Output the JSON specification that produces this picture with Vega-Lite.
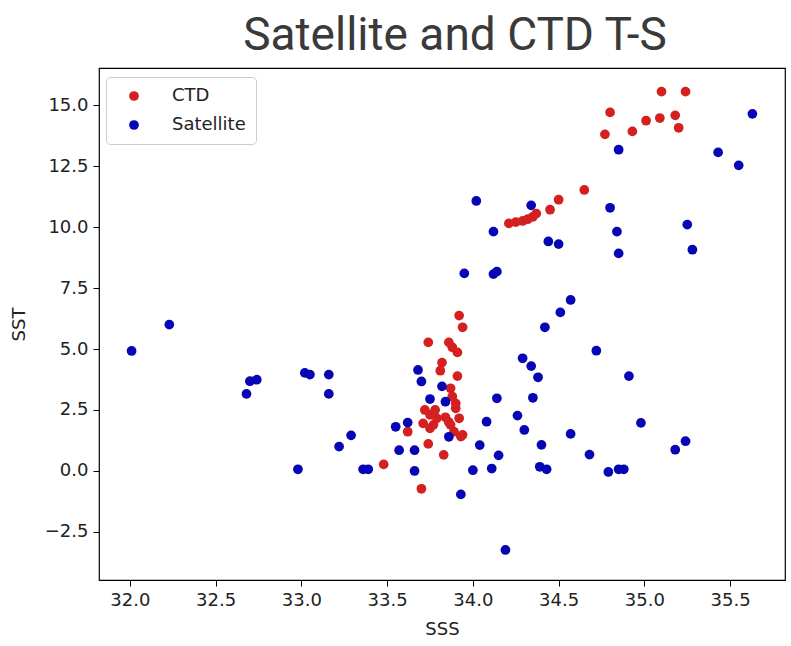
{
  "$schema": "https://vega.github.io/schema/vega-lite/v6.json",
  "autosize": {"type": "none"},
  "padding": {"left": 99, "top": 68, "right": 6, "bottom": 66},
  "width": 686,
  "height": 512,
  "background": "white",
  "title": {
    "text": "Satellite and CTD T-S",
    "font": "Roboto",
    "fontSize": 46,
    "fontWeight": "normal",
    "color": "#3a3a3a",
    "anchor": "middle",
    "frame": "group",
    "dx": 13,
    "offset": 8
  },
  "data": {
    "values": [
      {"sss": 33.48, "sst": 0.27, "source": "CTD"},
      {"sss": 33.70, "sst": -0.73, "source": "CTD"},
      {"sss": 33.62, "sst": 1.61, "source": "CTD"},
      {"sss": 33.74, "sst": 1.11, "source": "CTD"},
      {"sss": 33.83, "sst": 0.66, "source": "CTD"},
      {"sss": 33.71, "sst": 1.95, "source": "CTD"},
      {"sss": 33.77, "sst": 1.89, "source": "CTD"},
      {"sss": 33.75, "sst": 1.75, "source": "CTD"},
      {"sss": 33.72, "sst": 2.5, "source": "CTD"},
      {"sss": 33.78, "sst": 2.5, "source": "CTD"},
      {"sss": 33.75, "sst": 2.30, "source": "CTD"},
      {"sss": 33.79, "sst": 2.16, "source": "CTD"},
      {"sss": 33.84, "sst": 2.2, "source": "CTD"},
      {"sss": 33.86, "sst": 2.0, "source": "CTD"},
      {"sss": 33.87, "sst": 1.89, "source": "CTD"},
      {"sss": 33.92, "sst": 2.16, "source": "CTD"},
      {"sss": 33.89, "sst": 1.61, "source": "CTD"},
      {"sss": 33.94, "sst": 1.48, "source": "CTD"},
      {"sss": 33.93, "sst": 1.41, "source": "CTD"},
      {"sss": 33.90, "sst": 2.57, "source": "CTD"},
      {"sss": 33.90, "sst": 2.77, "source": "CTD"},
      {"sss": 33.88, "sst": 3.05, "source": "CTD"},
      {"sss": 33.87, "sst": 3.39, "source": "CTD"},
      {"sss": 33.91, "sst": 3.89, "source": "CTD"},
      {"sss": 33.81, "sst": 4.11, "source": "CTD"},
      {"sss": 33.82, "sst": 4.44, "source": "CTD"},
      {"sss": 33.91, "sst": 4.86, "source": "CTD"},
      {"sss": 33.88, "sst": 5.07, "source": "CTD"},
      {"sss": 33.86, "sst": 5.27, "source": "CTD"},
      {"sss": 33.74, "sst": 5.27, "source": "CTD"},
      {"sss": 33.94, "sst": 5.89, "source": "CTD"},
      {"sss": 33.92, "sst": 6.37, "source": "CTD"},
      {"sss": 34.21, "sst": 10.15, "source": "CTD"},
      {"sss": 34.25, "sst": 10.2, "source": "CTD"},
      {"sss": 34.29, "sst": 10.25, "source": "CTD"},
      {"sss": 34.32, "sst": 10.32, "source": "CTD"},
      {"sss": 34.35, "sst": 10.42, "source": "CTD"},
      {"sss": 34.37, "sst": 10.55, "source": "CTD"},
      {"sss": 34.45, "sst": 10.71, "source": "CTD"},
      {"sss": 34.50, "sst": 11.12, "source": "CTD"},
      {"sss": 34.65, "sst": 11.52, "source": "CTD"},
      {"sss": 34.77, "sst": 13.80, "source": "CTD"},
      {"sss": 34.80, "sst": 14.70, "source": "CTD"},
      {"sss": 34.93, "sst": 13.92, "source": "CTD"},
      {"sss": 35.01, "sst": 14.36, "source": "CTD"},
      {"sss": 35.09, "sst": 14.47, "source": "CTD"},
      {"sss": 35.10, "sst": 15.55, "source": "CTD"},
      {"sss": 35.18, "sst": 14.58, "source": "CTD"},
      {"sss": 35.20, "sst": 14.07, "source": "CTD"},
      {"sss": 35.24, "sst": 15.55, "source": "CTD"},
      {"sss": 32.01, "sst": 4.92, "source": "Satellite"},
      {"sss": 32.23, "sst": 6.0, "source": "Satellite"},
      {"sss": 32.68, "sst": 3.16, "source": "Satellite"},
      {"sss": 32.70, "sst": 3.68, "source": "Satellite"},
      {"sss": 32.74, "sst": 3.74, "source": "Satellite"},
      {"sss": 33.02, "sst": 4.02, "source": "Satellite"},
      {"sss": 33.05, "sst": 3.95, "source": "Satellite"},
      {"sss": 33.16, "sst": 3.95, "source": "Satellite"},
      {"sss": 33.16, "sst": 3.16, "source": "Satellite"},
      {"sss": 32.98, "sst": 0.07, "source": "Satellite"},
      {"sss": 33.22, "sst": 1.0, "source": "Satellite"},
      {"sss": 33.29, "sst": 1.46, "source": "Satellite"},
      {"sss": 33.36, "sst": 0.07, "source": "Satellite"},
      {"sss": 33.39, "sst": 0.07, "source": "Satellite"},
      {"sss": 33.55, "sst": 1.81, "source": "Satellite"},
      {"sss": 33.62, "sst": 1.98, "source": "Satellite"},
      {"sss": 33.57, "sst": 0.85, "source": "Satellite"},
      {"sss": 33.66, "sst": 0.85, "source": "Satellite"},
      {"sss": 33.66, "sst": 0.0, "source": "Satellite"},
      {"sss": 33.68, "sst": 4.14, "source": "Satellite"},
      {"sss": 33.70, "sst": 3.67, "source": "Satellite"},
      {"sss": 33.82, "sst": 3.47, "source": "Satellite"},
      {"sss": 33.75, "sst": 2.95, "source": "Satellite"},
      {"sss": 33.84, "sst": 2.84, "source": "Satellite"},
      {"sss": 33.86, "sst": 1.40, "source": "Satellite"},
      {"sss": 33.93, "sst": -0.96, "source": "Satellite"},
      {"sss": 33.95, "sst": 8.10, "source": "Satellite"},
      {"sss": 34.02, "sst": 11.07, "source": "Satellite"},
      {"sss": 34.12, "sst": 9.81, "source": "Satellite"},
      {"sss": 34.12, "sst": 8.07, "source": "Satellite"},
      {"sss": 34.14, "sst": 8.17, "source": "Satellite"},
      {"sss": 34.34, "sst": 10.89, "source": "Satellite"},
      {"sss": 34.44, "sst": 9.41, "source": "Satellite"},
      {"sss": 34.50, "sst": 9.30, "source": "Satellite"},
      {"sss": 34.14, "sst": 2.98, "source": "Satellite"},
      {"sss": 34.08, "sst": 2.02, "source": "Satellite"},
      {"sss": 34.04, "sst": 1.06, "source": "Satellite"},
      {"sss": 34.00, "sst": 0.03, "source": "Satellite"},
      {"sss": 34.11, "sst": 0.10, "source": "Satellite"},
      {"sss": 34.15, "sst": 0.64, "source": "Satellite"},
      {"sss": 34.19, "sst": -3.24, "source": "Satellite"},
      {"sss": 34.29, "sst": 4.62, "source": "Satellite"},
      {"sss": 34.34, "sst": 4.30, "source": "Satellite"},
      {"sss": 34.38, "sst": 3.84, "source": "Satellite"},
      {"sss": 34.35, "sst": 3.0, "source": "Satellite"},
      {"sss": 34.26, "sst": 2.27, "source": "Satellite"},
      {"sss": 34.30, "sst": 1.68, "source": "Satellite"},
      {"sss": 34.40, "sst": 1.07, "source": "Satellite"},
      {"sss": 34.39, "sst": 0.17, "source": "Satellite"},
      {"sss": 34.43, "sst": 0.07, "source": "Satellite"},
      {"sss": 34.42, "sst": 5.89, "source": "Satellite"},
      {"sss": 34.51, "sst": 6.50, "source": "Satellite"},
      {"sss": 34.57, "sst": 7.01, "source": "Satellite"},
      {"sss": 34.57, "sst": 1.52, "source": "Satellite"},
      {"sss": 34.68, "sst": 0.67, "source": "Satellite"},
      {"sss": 34.72, "sst": 4.93, "source": "Satellite"},
      {"sss": 34.79, "sst": -0.04, "source": "Satellite"},
      {"sss": 34.85, "sst": 0.07, "source": "Satellite"},
      {"sss": 34.88, "sst": 0.07, "source": "Satellite"},
      {"sss": 34.91, "sst": 3.89, "source": "Satellite"},
      {"sss": 34.98, "sst": 1.97, "source": "Satellite"},
      {"sss": 35.18, "sst": 0.87, "source": "Satellite"},
      {"sss": 35.24, "sst": 1.22, "source": "Satellite"},
      {"sss": 34.80, "sst": 10.79, "source": "Satellite"},
      {"sss": 34.84, "sst": 9.81, "source": "Satellite"},
      {"sss": 34.85, "sst": 8.92, "source": "Satellite"},
      {"sss": 34.85, "sst": 13.17, "source": "Satellite"},
      {"sss": 35.25, "sst": 10.10, "source": "Satellite"},
      {"sss": 35.28, "sst": 9.07, "source": "Satellite"},
      {"sss": 35.43, "sst": 13.06, "source": "Satellite"},
      {"sss": 35.55, "sst": 12.53, "source": "Satellite"},
      {"sss": 35.63, "sst": 14.64, "source": "Satellite"}
    ]
  },
  "mark": {"type": "point", "filled": true, "size": 95, "opacity": 1, "shape": "circle"},
  "encoding": {
    "x": {
      "field": "sss",
      "type": "quantitative",
      "title": "SSS",
      "scale": {"domain": [31.82, 35.82], "nice": false, "zero": false},
      "axis": {"values": [32, 32.5, 33, 33.5, 34, 34.5, 35, 35.5], "format": ".1f", "titlePadding": 11}
    },
    "y": {
      "field": "sst",
      "type": "quantitative",
      "title": "SST",
      "scale": {"domain": [-4.47, 16.52], "nice": false, "zero": false},
      "axis": {"values": [-2.5, 0, 2.5, 5, 7.5, 10, 12.5, 15], "format": ".1f", "titlePadding": 16}
    },
    "color": {
      "field": "source",
      "type": "nominal",
      "scale": {"domain": ["CTD", "Satellite"], "range": ["#d42020", "#0606b4"]},
      "legend": {
        "title": null,
        "orient": "none",
        "legendX": 7,
        "legendY": 9,
        "padding": 10,
        "symbolOffset": 9,
        "labelOffset": 29,
        "rowPadding": 11,
        "symbolSize": 95,
        "symbolType": "circle",
        "labelFont": "DejaVu Sans",
        "labelFontSize": 18,
        "labelColor": "#222222",
        "strokeColor": "#cccccc",
        "fillColor": "#ffffff",
        "cornerRadius": 4
      }
    }
  },
  "config": {
    "view": {"stroke": "#000000", "strokeWidth": 1.2},
    "axis": {
      "domain": false,
      "grid": false,
      "tickColor": "#000000",
      "tickSize": 6,
      "tickWidth": 1,
      "labelFont": "DejaVu Sans",
      "labelFontSize": 18,
      "labelColor": "#222222",
      "labelPadding": 5,
      "titleFont": "DejaVu Sans",
      "titleFontSize": 18,
      "titleFontWeight": "normal",
      "titleColor": "#222222"
    }
  }
}
